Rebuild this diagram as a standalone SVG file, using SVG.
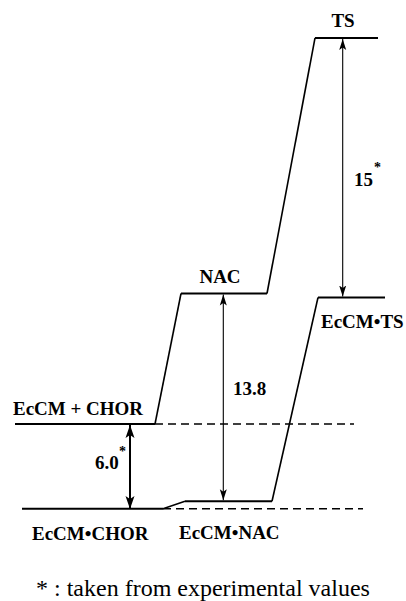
<svg xmlns="http://www.w3.org/2000/svg" width="406" height="601" viewBox="0 0 406 601">
<defs>
<style>
.lvl{stroke:#000;stroke-width:2;fill:none}
.slope{stroke:#000;stroke-width:1.6;fill:none}
.dash{stroke:#000;stroke-width:1.6;stroke-dasharray:8 5;fill:none}
.arr{stroke:#000;stroke-width:1.1;fill:none}
.arrb{stroke:#000;stroke-width:2;fill:none}
text{font-family:'Liberation Serif','DejaVu Serif',serif;fill:#000}
.lbl{font-weight:bold;font-size:19px}
.sup{font-weight:bold;font-size:14px}
.note{font-size:24px}
</style>
<marker id="ah" markerUnits="userSpaceOnUse" markerWidth="12" markerHeight="8" refX="11" refY="4" orient="auto-start-reverse">
<path d="M0,0.5 L11,4 L0,7.5 L2.5,4 z" fill="#000"/>
</marker>
<marker id="ahb" markerUnits="userSpaceOnUse" markerWidth="14" markerHeight="10" refX="13" refY="5" orient="auto-start-reverse">
<path d="M0,0.5 L13,5 L0,9.5 L3,5 z" fill="#000"/>
</marker>
</defs>
<g id="levels">
<g id="ecm-chor"><line class="lvl" x1="15" y1="424" x2="155" y2="424"/><text class="lbl" x="13" y="415">EcCM + CHOR</text></g>
<g id="ecm-chor-complex"><line class="lvl" x1="22" y1="508.7" x2="163" y2="508.7"/><text class="lbl" x="32" y="540">EcCM•CHOR</text></g>
<g id="ecm-nac"><line class="lvl" x1="185" y1="501.3" x2="272" y2="501.3"/><text class="lbl" x="179" y="539">EcCM•NAC</text></g>
<g id="nac"><line class="lvl" x1="181" y1="293.5" x2="267" y2="293.5"/><text class="lbl" x="220" y="282.5" text-anchor="middle">NAC</text></g>
<g id="ts"><line class="lvl" x1="315" y1="38" x2="378" y2="38"/><text class="lbl" x="343" y="27" text-anchor="middle">TS</text></g>
<g id="ecm-ts"><line class="lvl" x1="318" y1="297.5" x2="385" y2="297.5"/><text class="lbl" x="321" y="328">EcCM•TS</text></g>
</g>
<g id="connectors">
<line class="slope" x1="155" y1="424" x2="181" y2="293.5"/>
<line class="slope" x1="267" y1="293.5" x2="315" y2="38"/>
<line class="slope" x1="163" y1="508.7" x2="185" y2="501.3"/>
<line class="slope" x1="272" y1="501.3" x2="318" y2="297.5"/>
<line class="dash" x1="155" y1="424" x2="354" y2="424"/>
<line class="dash" x1="163" y1="508.7" x2="363" y2="508.7"/>
<line class="arr" x1="342.7" y1="39" x2="342.7" y2="296.5" marker-start="url(#ah)" marker-end="url(#ah)"/>
<line class="arr" x1="223.3" y1="294.5" x2="223.3" y2="500.3" marker-start="url(#ah)" marker-end="url(#ah)"/>
<line class="arrb" x1="130" y1="425" x2="130" y2="509" marker-start="url(#ahb)" marker-end="url(#ahb)"/>
</g>
<g id="values">
<text class="lbl" x="354" y="185.5">15</text><text class="sup" x="374" y="172">*</text>
<text class="lbl" x="95" y="469">6.0</text><text class="sup" x="119" y="456">*</text>
<text class="lbl" x="233" y="395">13.8</text>
</g>
<text class="note" x="36" y="596">* : taken from experimental values</text>
</svg>
